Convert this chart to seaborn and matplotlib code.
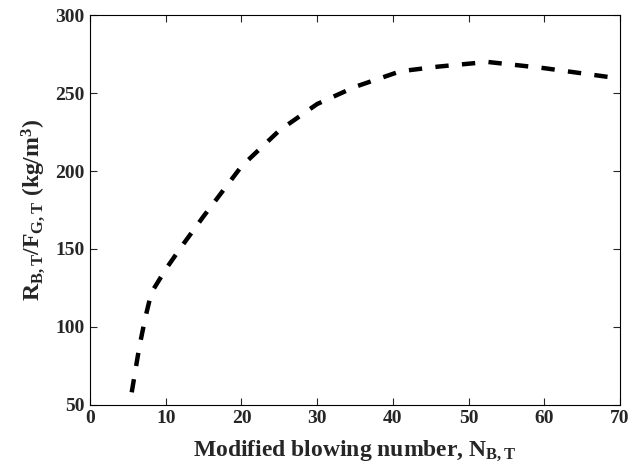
import numpy as np
import pandas as pd
import seaborn as sns
import matplotlib
matplotlib.use("Agg")
import matplotlib.pyplot as plt

# values
blowing_number = [5.5, 6.5, 7.3, 8.1, 10, 12, 15, 20, 25, 30, 35, 41, 46, 52.5, 60, 69]
ratio = [58, 87, 106, 122, 137, 151, 171, 203, 226, 243, 254, 264, 267, 270, 266, 260]

xticks = [0, 10, 20, 30, 40, 50, 60, 70]
yticks = [50, 100, 150, 200, 250, 300]

sns.set_style("ticks")
plt.rcParams['font.family'] = ['Liberation Serif', 'DejaVu Serif']
plt.rcParams['font.weight'] = 'bold'
plt.rcParams['mathtext.fontset'] = 'custom'
plt.rcParams['mathtext.rm'] = 'Liberation Serif:bold'
plt.rcParams['mathtext.it'] = 'Liberation Serif:bold'
plt.rcParams['mathtext.bf'] = 'Liberation Serif:bold'

df = pd.DataFrame({'N': blowing_number, 'R': ratio})

fig = plt.figure(figsize=(6.3, 4.74), dpi=100)
ax = fig.add_axes([0.143, 0.146, 0.841, 0.822])

sns.lineplot(data=df, x='N', y='R', ax=ax, color='black', linewidth=3.2)
ax.lines[0].set_linestyle((0, (3.0, 3.0)))

ax.set_xlim(0, 70)
ax.set_ylim(50, 300)
ax.set_xticks(xticks)
ax.set_yticks(yticks)
ax.tick_params(direction='in', top=True, right=True, length=5, width=0.8,
               labelsize=14, pad=4)
for lab in ax.get_xticklabels() + ax.get_yticklabels():
    lab.set_fontweight('bold')
for s in ax.spines.values():
    s.set_visible(True)
    s.set_linewidth(0.8)
    s.set_color('black')

ax.set_xlabel(r'Modified blowing number, N$_{\mathrm{B,T}}$', fontsize=17,
              fontweight='bold', labelpad=8)
ax.set_ylabel(r'R$_{\mathrm{B,T}}$/F$_{\mathrm{G,T}}$ (kg/m$^{\mathrm{3}}$)', fontsize=17,
              fontweight='bold', labelpad=6)

fig.savefig('out.png', dpi=100)
